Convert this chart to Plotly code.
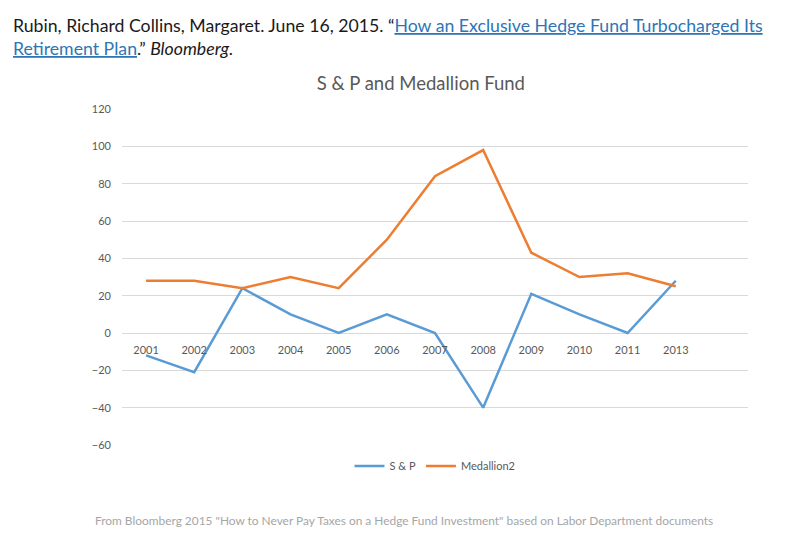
import plotly.graph_objects as go

# values
years = ['2001', '2002', '2003', '2004', '2005', '2006', '2007', '2008', '2009', '2010', '2011', '2013']
sp_returns = [-12, -21, 24, 10, 0, 10, 0, -40, 21, 10, 0, 28]
medallion_returns = [28, 28, 24, 30, 24, 50, 84, 98, 43, 30, 32, 25]
y_ticks = [-60, -40, -20, 0, 20, 40, 60, 80, 100, 120]

font_name = 'Lato'
grey = '#595959'

fig = go.Figure()
fig.add_trace(go.Scatter(x=years, y=sp_returns, name='S & P', mode='lines',
                         line=dict(color='#5b9bd5', width=2.5)))
fig.add_trace(go.Scatter(x=years, y=medallion_returns, name='Medallion2', mode='lines',
                         line=dict(color='#ed7d31', width=2.5)))

# citation above the chart
fig.add_annotation(
    text=('Rubin, Richard Collins, Margaret. June 16, 2015. \u201c'
          '<span style="color:#2e75b6"><u>How an Exclusive Hedge Fund Turbocharged Its</u></span><br>'
          '<span style="color:#2e75b6"><u>Retirement Plan</u></span>.\u201d <i>Bloomberg.</i>'),
    xref='paper', yref='paper', x=-0.177, y=1.285, xanchor='left', yanchor='top',
    align='left', showarrow=False, font=dict(family=font_name, size=17.7, color='#1a1a1a'))

# source note below
fig.add_annotation(
    text='From Bloomberg 2015 "How to Never Pay Taxes on a Hedge Fund Investment" based on Labor Department documents',
    xref='paper', yref='paper', x=0.45, y=-0.226, xanchor='center', yanchor='middle',
    showarrow=False, font=dict(family=font_name, size=11.9, color='#a6a6a6'))

fig.update_layout(
    width=800, height=544,
    margin=dict(l=114, r=60, t=101, b=107),
    paper_bgcolor='white', plot_bgcolor='white',
    font=dict(family=font_name, color=grey),
    title=dict(text='S & P and Medallion Fund', x=0.516, xanchor='center', y=0.862, yanchor='middle',
               font=dict(size=18.5, color=grey)),
    showlegend=True,
    legend=dict(orientation='h', x=0.5, xanchor='center', y=-0.0625, yanchor='middle',
                font=dict(size=11, color=grey)),
    xaxis=dict(type='category', range=[-0.5, 12.5], showgrid=False, zeroline=False, showline=False,
               anchor='free', position=1 / 3, ticks='', ticklabelstandoff=9,
               tickfont=dict(size=11, color=grey)),
    yaxis=dict(range=[-60, 120], tickvals=y_ticks, showgrid=True, gridcolor='#d9d9d9', gridwidth=1,
               zeroline=False, showline=False, ticks='', ticklabelstandoff=10,
               tickfont=dict(size=11, color=grey)),
)

fig.write_html("out.html")
